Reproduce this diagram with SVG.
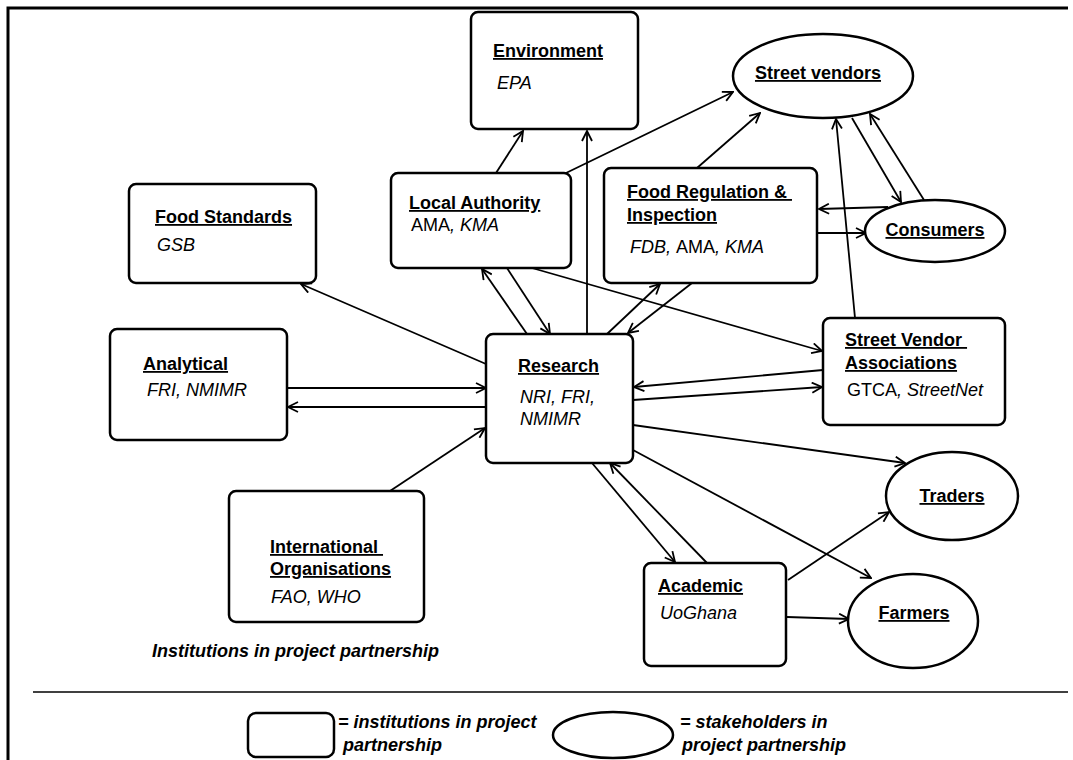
<svg xmlns="http://www.w3.org/2000/svg" width="1073" height="760" viewBox="0 0 1073 760">
<defs>
<marker id="arr" viewBox="0 0 12 12" refX="11" refY="6" markerWidth="12" markerHeight="12" markerUnits="userSpaceOnUse" orient="auto">
<path d="M1,1 L11,6 L1,11" fill="none" stroke="#000" stroke-width="1.8"/>
</marker>
<style>
.box{fill:#fff;stroke:#000;stroke-width:2.5}
.ell{fill:#fff;stroke:#000;stroke-width:2.5}
.t{font-family:"Liberation Sans",Arial,sans-serif;font-size:18px;font-weight:bold;text-decoration:underline;fill:#000;white-space:pre}
.s{font-family:"Liberation Sans",Arial,sans-serif;font-size:18px;font-style:italic;fill:#000}
.u{font-style:normal}
.c{font-family:"Liberation Sans",Arial,sans-serif;font-size:18px;font-style:italic;font-weight:bold;fill:#000}
.ln{stroke:#000;stroke-width:1.8;fill:none;marker-end:url(#arr)}
</style>
</defs>
<rect width="1073" height="760" fill="#fff"/>
<path d="M8,760 L8,8 L1068,8" fill="none" stroke="#000" stroke-width="3"/>

<g id="connectors">
<line class="ln" x1="496" y1="173" x2="523" y2="131"/>
<line class="ln" x1="587" y1="334" x2="587" y2="131"/>
<line class="ln" x1="566" y1="173" x2="733" y2="92"/>
<line class="ln" x1="697" y1="168" x2="760" y2="113"/>
<line class="ln" x1="852" y1="118" x2="901" y2="202"/>
<line class="ln" x1="924" y1="200" x2="870" y2="114"/>
<line class="ln" x1="888" y1="207" x2="819" y2="209"/>
<line class="ln" x1="817" y1="233" x2="866" y2="233"/>
<line class="ln" x1="855" y1="318" x2="836" y2="119"/>
<line class="ln" x1="486" y1="364" x2="301" y2="284"/>
<line class="ln" x1="287" y1="388" x2="486" y2="388"/>
<line class="ln" x1="486" y1="407" x2="288" y2="407"/>
<line class="ln" x1="390" y1="491" x2="485" y2="428"/>
<line class="ln" x1="527" y1="334" x2="482" y2="269"/>
<line class="ln" x1="507" y1="268" x2="550" y2="334"/>
<line class="ln" x1="532" y1="268" x2="822" y2="351"/>
<line class="ln" x1="607" y1="334" x2="660" y2="284"/>
<line class="ln" x1="692" y1="283" x2="628" y2="333"/>
<line class="ln" x1="823" y1="370" x2="634" y2="387"/>
<line class="ln" x1="633" y1="400" x2="822" y2="387"/>
<line class="ln" x1="633" y1="425" x2="905" y2="463"/>
<line class="ln" x1="633" y1="450" x2="871" y2="578"/>
<line class="ln" x1="592" y1="463" x2="675" y2="562"/>
<line class="ln" x1="707" y1="563" x2="610" y2="463"/>
<line class="ln" x1="788" y1="580" x2="889" y2="512"/>
<line class="ln" x1="787" y1="617" x2="849" y2="619"/>
</g>

<g id="environment">
<rect class="box" x="471" y="12" width="167" height="117" rx="7"/>
<text class="t" x="493" y="57">Environment</text>
<text class="s" x="497" y="89">EPA</text>
</g>

<g id="street-vendors">
<ellipse class="ell" cx="823" cy="76" rx="90" ry="42"/>
<text class="t" x="818" y="79" text-anchor="middle">Street vendors</text>
</g>

<g id="food-standards">
<rect class="box" x="129" y="184" width="187" height="99" rx="7"/>
<text class="t" x="155" y="223">Food Standards</text>
<text class="s" x="157" y="251">GSB</text>
</g>

<g id="local-authority">
<rect class="box" x="391" y="173" width="180" height="95" rx="7"/>
<text class="t" x="409" y="209">Local Authority</text>
<text class="s" x="411" y="231"><tspan class="u">AMA</tspan>, KMA</text>
</g>

<g id="food-regulation">
<rect class="box" x="604" y="168" width="213" height="115" rx="7"/>
<text class="t" x="627" y="198">Food Regulation &amp; </text>
<text class="t" x="627" y="221">Inspection</text>
<text class="s" x="630" y="253">FDB, <tspan class="u">AMA</tspan>, KMA</text>
</g>

<g id="consumers">
<ellipse class="ell" cx="935" cy="231" rx="70" ry="31"/>
<text class="t" x="935" y="236" text-anchor="middle">Consumers</text>
</g>

<g id="analytical">
<rect class="box" x="110" y="329" width="177" height="111" rx="7"/>
<text class="t" x="143" y="370">Analytical</text>
<text class="s" x="147" y="396">FRI, NMIMR</text>
</g>

<g id="research">
<rect class="box" x="486" y="334" width="147" height="129" rx="7"/>
<text class="t" x="518" y="372">Research</text>
<text class="s" x="520" y="403">NRI, FRI,</text>
<text class="s" x="520" y="425">NMIMR</text>
</g>

<g id="street-vendor-associations">
<rect class="box" x="823" y="318" width="182" height="107" rx="7"/>
<text class="t" x="845" y="346">Street Vendor </text>
<text class="t" x="845" y="369">Associations</text>
<text class="s" x="847" y="396"><tspan class="u">GTCA</tspan>, StreetNet</text>
</g>

<g id="traders">
<ellipse class="ell" cx="952" cy="496" rx="66" ry="44"/>
<text class="t" x="952" y="502" text-anchor="middle">Traders</text>
</g>

<g id="international-organisations">
<rect class="box" x="229" y="491" width="195" height="131" rx="7"/>
<text class="t" x="270" y="553">International </text>
<text class="t" x="270" y="575">Organisations</text>
<text class="s" x="271" y="603">FAO, WHO</text>
</g>

<g id="academic">
<rect class="box" x="644" y="563" width="142" height="103" rx="7"/>
<text class="t" x="658" y="592">Academic</text>
<text class="s" x="660" y="619">UoGhana</text>
</g>

<g id="farmers">
<ellipse class="ell" cx="913" cy="621" rx="65" ry="47"/>
<text class="t" x="914" y="619" text-anchor="middle">Farmers</text>
</g>

<text class="c" x="152" y="657">Institutions in project partnership</text>

<line x1="33" y1="692" x2="1068" y2="692" stroke="#000" stroke-width="1.5"/>

<g id="legend">
<rect class="box" x="248" y="713" width="86" height="44" rx="8"/>
<text class="c" x="338" y="728">= institutions in project</text>
<text class="c" x="343" y="751">partnership</text>
<ellipse class="ell" cx="613" cy="735" rx="60" ry="23"/>
<text class="c" x="680" y="728">= stakeholders in</text>
<text class="c" x="682" y="751">project partnership</text>
</g>
</svg>
